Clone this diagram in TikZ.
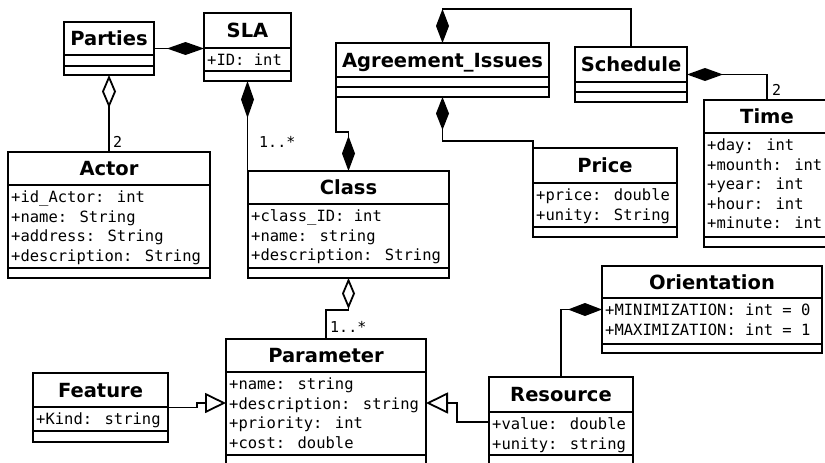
\documentclass[tikz,border=0pt]{standalone}
\usepackage{fontspec}
\newfontfamily\titlefont{DejaVu Sans}
\newfontfamily\attrfont{DejaVu Sans Mono}
\usetikzlibrary{arrows.meta}

\tikzset{
  umlbox/.style={draw, line width=1.8pt, inner sep=0pt, outer sep=0pt, fill=white},
  divider/.style={line width=1.8pt},
  titletext/.style={anchor=base, inner sep=0pt, font=\titlefont\bfseries\fontsize{19.5}{23}\selectfont},
  attrtext/.style={anchor=base west, inner sep=0pt, font=\attrfont\fontsize{15.5}{19.5}\selectfont},
  multtext/.style={anchor=base west, inner sep=0pt, font=\attrfont\fontsize{15}{18}\selectfont},
  link/.style={line width=1.8pt},
}

% name, left, top, right, bottom, div1, div2, title
\newcommand\umlclass[8]{%
  \node[umlbox, minimum width={#4-#2}, minimum height={#5-#3}] (#1) at ({(#2+#4)/2},{(#3+#5)/2}) {};
  \draw[divider] (#2,#6) -- (#4,#6) (#2,#7) -- (#4,#7);
  \node[titletext] (#1-title) at ({(#2+#4)/2},{(#3+#6)/2+7}) {#8};
}
% name, left, div1, list
\newcommand\attrlines[4]{%
  \foreach \t [count=\i] in {#4} {
    \node[attrtext] (#1-a\i) at ({#2+3}, {#3+17.5+19.5*(\i-1)}) {\t};
  }
}

\begin{document}
\begin{tikzpicture}[x=1pt,y=-1pt]
\useasboundingbox (0,0) rectangle (825,463);
\clip (0,0) rectangle (825,463);
\fill[white] (0,0) rectangle (825,463);

% classes
\umlclass{parties}{64}{22}{154}{75}{55}{66}{Parties}
\umlclass{sla}{204}{13}{291}{81}{48}{71}{SLA}
\attrlines{sla}{204}{48}{{+ID: int}}
\umlclass{actor}{8}{152}{210}{278}{185}{268}{Actor}
\attrlines{actor}{8}{185}{{+id\_Actor: int},{+name: String},{+address: String},{+description: String}}
\umlclass{class}{248}{171}{449}{278}{204}{268}{Class}
\attrlines{class}{248}{204}{{+class\_ID: int},{+name: string},{+description: String}}
\umlclass{ai}{336}{43}{549}{97}{77}{87}{Agreement\_Issues}
\umlclass{schedule}{575}{47}{687}{102}{82}{92}{Schedule}
\umlclass{price}{533}{148}{677}{237}{183}{227}{Price}
\attrlines{price}{533}{183}{{+price: double},{+unity: String}}
\umlclass{time}{704}{100}{830}{247}{133}{237}{Time}
\attrlines{time}{704}{133}{{+day: int},{+mounth: int},{+year: int},{+hour: int},{+minute: int}}
\umlclass{orientation}{602}{266}{822}{353}{298}{344}{Orientation}
\attrlines{orientation}{602}{298}{{+MINIMIZATION: int = 0},{+MAXIMIZATION: int = 1}}
\umlclass{parameter}{226}{339}{426}{467}{372}{455}{Parameter}
\attrlines{parameter}{226}{372}{{+name: string},{+description: string},{+priority: int},{+cost: double}}
\umlclass{feature}{33}{373}{168}{442}{407}{431}{Feature}
\attrlines{feature}{33}{407}{{+Kind: string}}
\umlclass{resource}{489}{377}{633}{467}{412}{455}{Resource}
\attrlines{resource}{489}{412}{{+value: double},{+unity: string}}

% connectors
\draw[link, -{Diamond[length=37pt,width=13pt]}] (parties.east) -- (sla.west |- parties.east);
\draw[link, {Diamond[open,length=33pt,width=14pt]}-] (parties.south) -- (actor.north);
\node[multtext] (m-actor) at (113,147) {2};
\draw[link, {Diamond[length=37pt,width=13pt]}-] (sla.south) -- (sla.south |- class.north);
\node[multtext] (m-class) at (259,147) {1..*};
\draw[link, -{Diamond[length=35pt,width=13pt]}] (ai.south west) -- ++(0,35) -| (class.north);
\draw[link, {Diamond[length=33pt,width=13pt]}-] (ai.south) -- ++(0,44) -| (price.north west);
\draw[link, {Diamond[length=34pt,width=13pt]}-] (ai.north) -- ++(0,-34) -| (schedule.north);
\draw[link, {Diamond[length=36pt,width=13pt]}-] (schedule.east) -| (time.north);
\node[multtext] (m-time) at (772,95) {2};
\draw[link, {Diamond[open,length=31pt,width=13pt]}-] (class.south) -- ++(0,32) -| (parameter.north);
\node[multtext] (m-param) at (330,332) {1..*};
\draw[link, -{Triangle[open,length=21pt,width=20pt]}] (feature.east) -- ++(29,0) |- (parameter.west);
\draw[link, -{Triangle[open,length=22pt,width=21pt]}] (resource.west) -- ++(-32,0) |- (parameter.east);
\draw[link, -{Diamond[length=34pt,width=13pt]}] (resource.north) |- (orientation.west);
\end{tikzpicture}
\end{document}
